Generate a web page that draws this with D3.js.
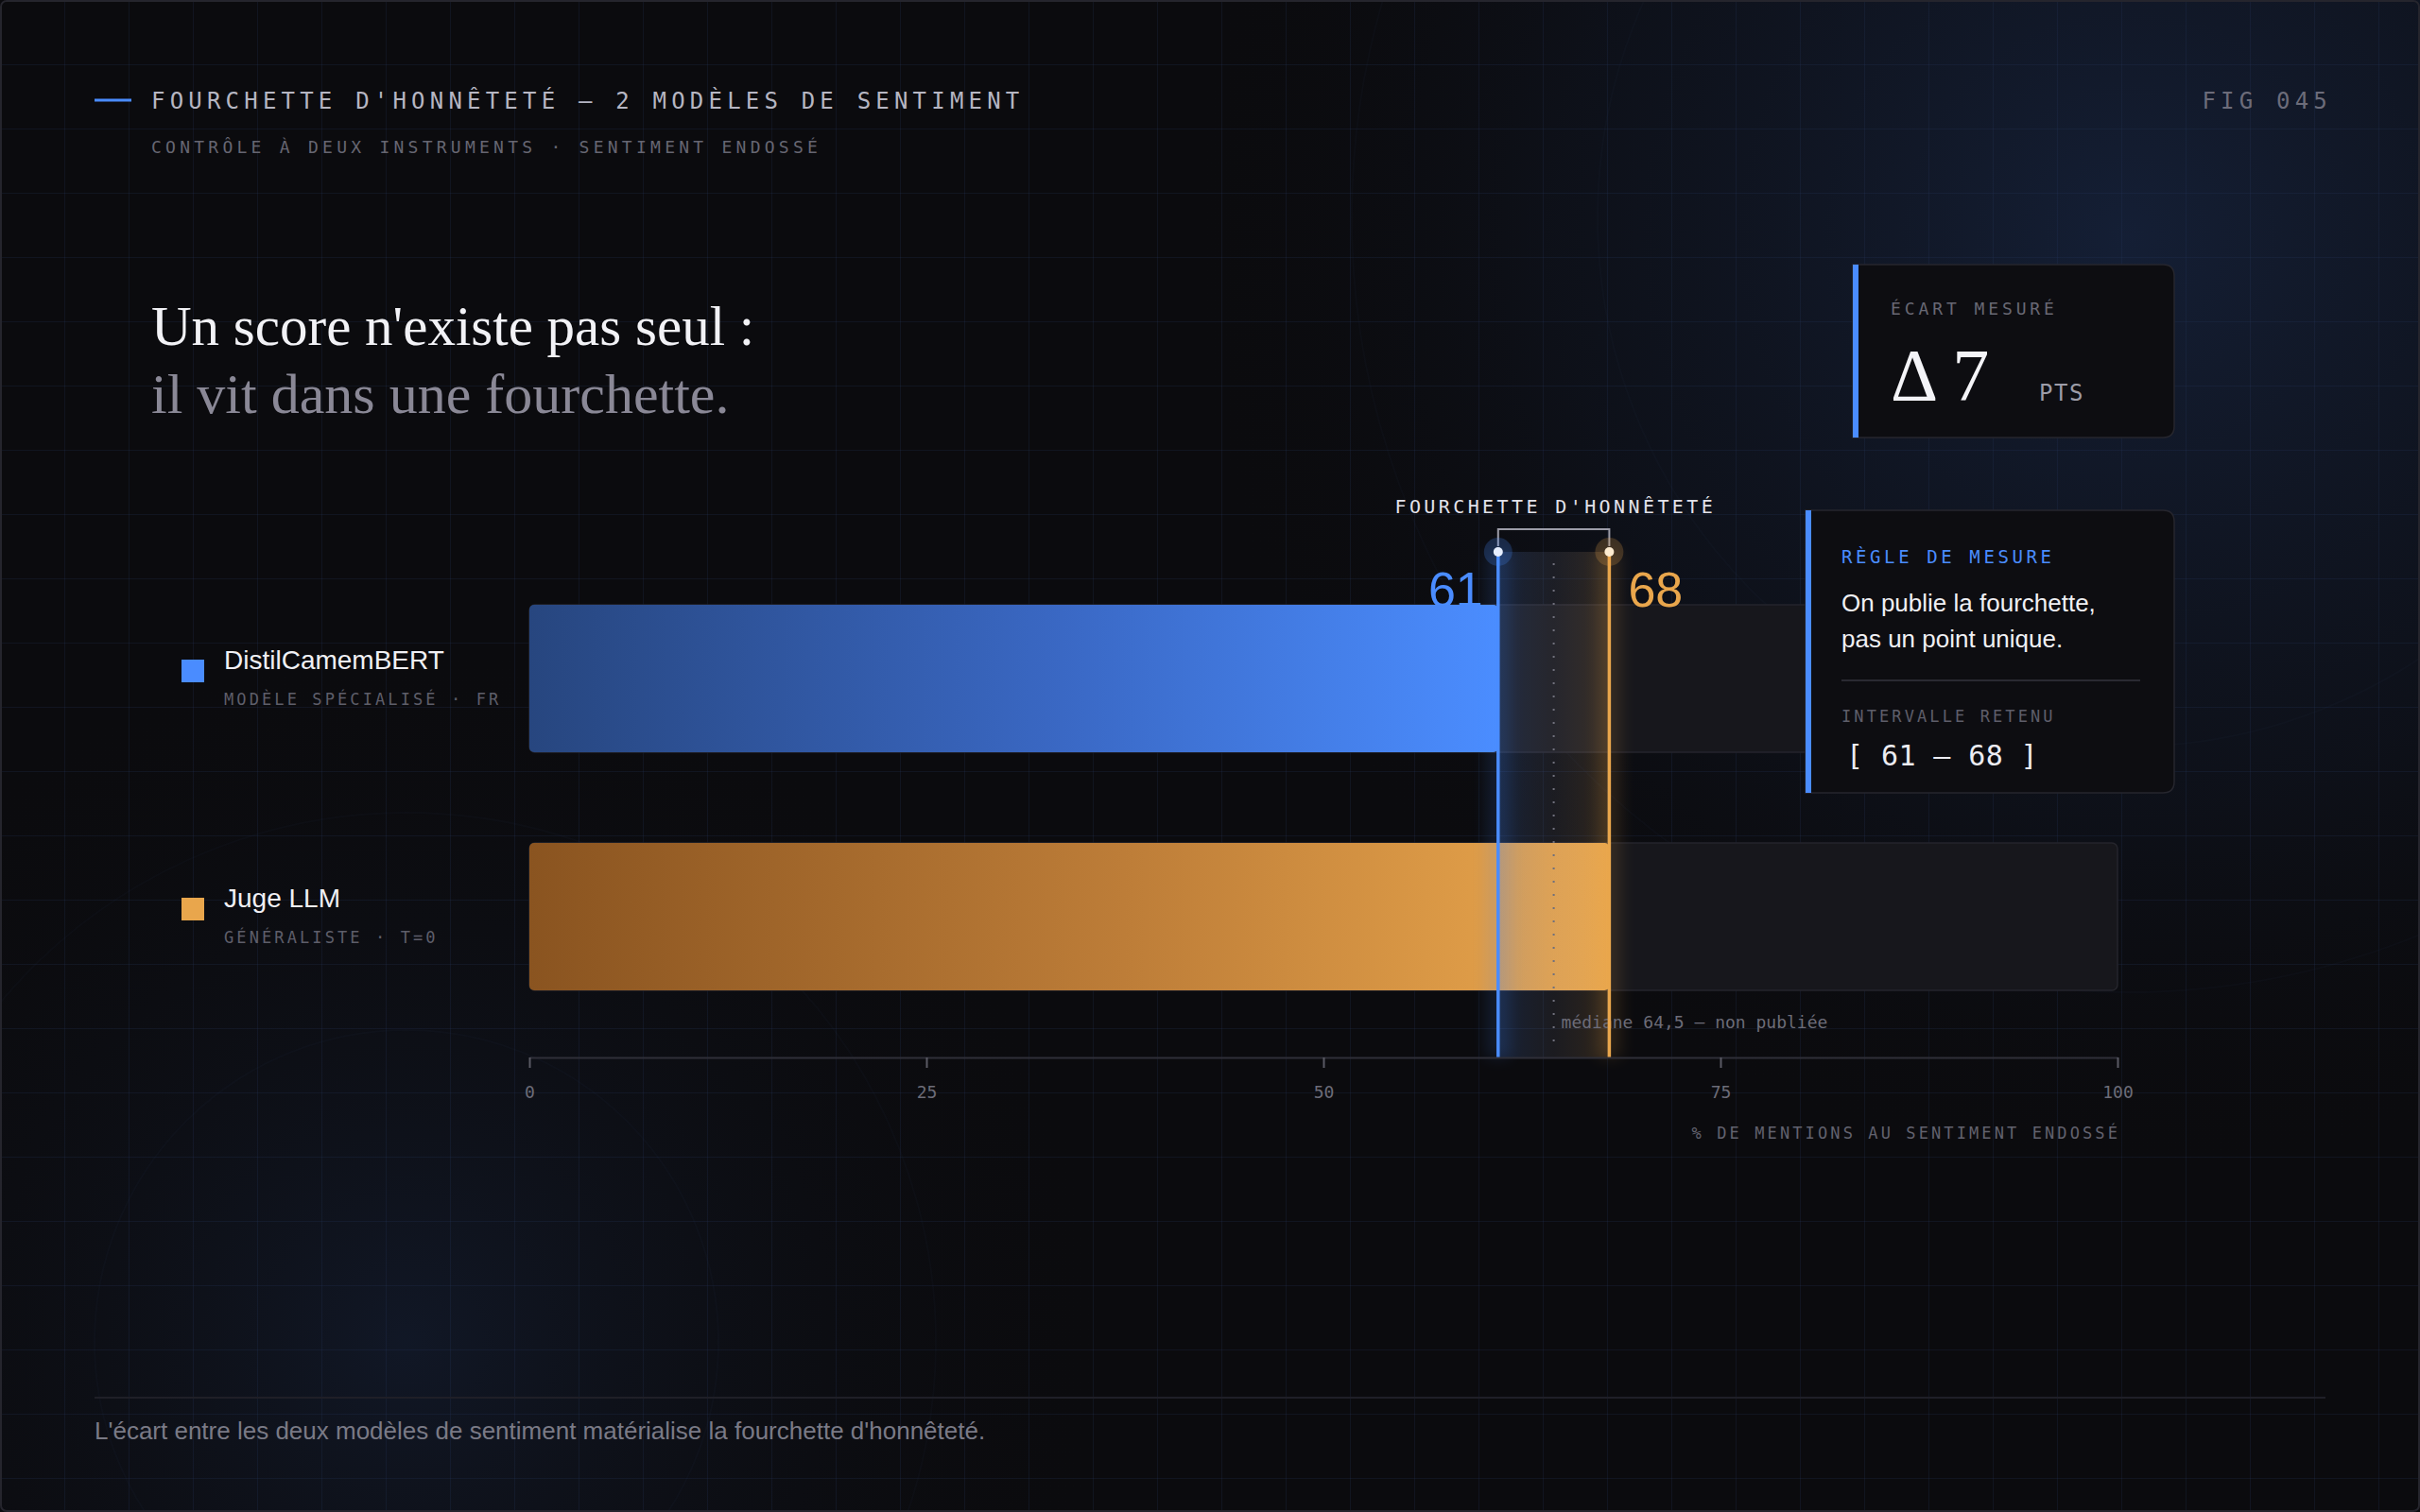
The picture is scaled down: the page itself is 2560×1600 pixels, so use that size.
<!DOCTYPE html>
<html><head><meta charset="utf-8">
<script src="https://cdn.jsdelivr.net/npm/d3@7"></script>
<style>html,body{margin:0;padding:0;background:#0b0b0e;} svg{display:block}</style>
</head><body><div id="chart"></div>
<script>
// ---------- data ----------
const models = ["DistilCamemBERT", "Juge LLM"];
const modelNotes = ["MODÈLE SPÉCIALISÉ · FR", "GÉNÉRALISTE · T=0"];
const scores = [61, 68];
const median = 64.5;
const xDomain = [0, 100];
const xTicks = [0, 25, 50, 75, 100];
const headerTitle = "FOURCHETTE D'HONNÊTETÉ — 2 MODÈLES DE SENTIMENT";
const headerSub = "CONTRÔLE À DEUX INSTRUMENTS · SENTIMENT ENDOSSÉ";
const figLabel = "FIG 045";
const headline = ["Un score n'existe pas seul :", "il vit dans une fourchette."];
const axisTitle = "% DE MENTIONS AU SENTIMENT ENDOSSÉ";
const bandLabel = "FOURCHETTE D'HONNÊTETÉ";
const medianLabel = "médiane 64,5 — non publiée";
const footerText = "L'écart entre les deux modèles de sentiment matérialise la fourchette d'honnêteté.";
const ruleTitle = "RÈGLE DE MESURE";
const ruleText = ["On publie la fourchette,", "pas un point unique."];
const intervalTitle = "INTERVALLE RETENU";
const gapTitle = "ÉCART MESURÉ";

// ---------- styles ----------
const W = 2560, H = 1600;
const MONO = "'DejaVu Sans Mono', monospace";
const SANS = "'Liberation Sans', Arial, sans-serif";
const SERIF = "'Liberation Serif', 'Times New Roman', serif";
const BLUE = "#4a8cff", ORANGE = "#e9a64c";
const seriesColors = [BLUE, ORANGE];

const svg = d3.select("#chart").append("svg").attr("width", W).attr("height", H);
const defs = svg.append("defs");

// background
svg.append("rect").attr("width", W).attr("height", H).attr("fill", "#0b0b0e");
const rg1 = defs.append("radialGradient").attr("id", "glowTR").attr("gradientUnits", "userSpaceOnUse")
  .attr("cx", 2250).attr("cy", 250).attr("r", 1000);
rg1.append("stop").attr("offset", 0).attr("stop-color", "#1c2f55").attr("stop-opacity", 0.55);
rg1.append("stop").attr("offset", 0.6).attr("stop-color", "#15213a").attr("stop-opacity", 0.25);
rg1.append("stop").attr("offset", 1).attr("stop-color", "#0b0b0e").attr("stop-opacity", 0);
svg.append("rect").attr("width", W).attr("height", H).attr("fill", "url(#glowTR)");
const rg2 = defs.append("radialGradient").attr("id", "glowBL").attr("gradientUnits", "userSpaceOnUse")
  .attr("cx", 430).attr("cy", 1420).attr("r", 750);
rg2.append("stop").attr("offset", 0).attr("stop-color", "#1a2a4a").attr("stop-opacity", 0.4);
rg2.append("stop").attr("offset", 1).attr("stop-color", "#0b0b0e").attr("stop-opacity", 0);
svg.append("rect").attr("width", W).attr("height", H).attr("fill", "url(#glowBL)");

// faint rings
[[2250, 230, 820], [2250, 230, 560], [430, 1420, 330], [430, 1420, 560]].forEach(([cx, cy, r]) => {
  svg.append("circle").attr("cx", cx).attr("cy", cy).attr("r", r)
    .attr("fill", "none").attr("stroke", "#3a5488").attr("stroke-opacity", 0.045).attr("stroke-width", 2);
});

// grid
const grid = svg.append("g").attr("stroke", "#2a3a66").attr("stroke-opacity", 0.22).attr("stroke-width", 1);
d3.range(68, W, 68).forEach(x => grid.append("line").attr("x1", x + 0.5).attr("x2", x + 0.5).attr("y1", 0).attr("y2", H));
d3.range(68, H, 68).forEach(y => grid.append("line").attr("y1", y + 0.5).attr("y2", y + 0.5).attr("x1", 0).attr("x2", W));

// frame
svg.append("rect").attr("x", 1).attr("y", 1).attr("width", W - 2).attr("height", H - 2).attr("rx", 6)
  .attr("fill", "none").attr("stroke", "#25252d").attr("stroke-width", 2);

function txt(g, x, y, s, o) {
  const t = g.append("text").attr("x", x).attr("y", y).text(s)
    .attr("font-family", o.f).attr("font-size", o.s).attr("fill", o.c);
  if (o.ls) t.style("letter-spacing", o.ls + "px");
  if (o.a) t.attr("text-anchor", o.a);
  if (o.w) t.attr("font-weight", o.w);
  return t;
}

// ---------- header ----------
svg.append("line").attr("x1", 100).attr("x2", 139).attr("y1", 106).attr("y2", 106)
  .attr("stroke", BLUE).attr("stroke-width", 3);
txt(svg, 160, 115, headerTitle, { f: MONO, s: 24, c: "#b6b6c2", ls: 5.2 });
txt(svg, 160, 162, headerSub, { f: MONO, s: 18, c: "#66667 2".replace(" ", ""), ls: 4.25 });
txt(svg, 2467, 115, figLabel, { f: MONO, s: 24, c: "#6c6c7a", ls: 5.2, a: "end" });

txt(svg, 160, 365, headline[0], { f: SERIF, s: 59, c: "#f2f2f6" });
txt(svg, 160, 437, headline[1], { f: SERIF, s: 60, c: "#8a8896" });

// ---------- chart ----------
const x = d3.scaleLinear().domain(xDomain).range([560, 2240]);
const y = d3.scaleBand().domain(models).range([640, 1048]).paddingInner(0.381).paddingOuter(0);
const axisY = 1119;
const bw = y.bandwidth();

// tracks
svg.append("g").selectAll("rect").data(models).join("rect")
  .attr("x", x(0)).attr("y", d => y(d)).attr("width", x(100) - x(0)).attr("height", bw)
  .attr("rx", 6).attr("fill", "#17171c").attr("stroke", "#25252c").attr("stroke-width", 1.5);

// value labels (behind bars)
txt(svg, x(scores[0]) - 16, 642, String(scores[0]), { f: SANS, s: 52, c: BLUE, a: "end" });
txt(svg, x(scores[1]) + 20, 642, String(scores[1]), { f: SANS, s: 52, c: ORANGE });

// bar gradients
const gradStops = [
  [["#27467f", 0], ["#3a68c4", 0.55], ["#4b8dff", 1]],
  [["#8a5420", 0], ["#bd7d38", 0.55], ["#eaa74d", 1]]
];
scores.forEach((v, i) => {
  const g = defs.append("linearGradient").attr("id", "barGrad" + i).attr("gradientUnits", "userSpaceOnUse")
    .attr("x1", x(0)).attr("x2", x(v)).attr("y1", 0).attr("y2", 0);
  gradStops[i].forEach(([c, o]) => g.append("stop").attr("offset", o).attr("stop-color", c));
});

svg.append("g").selectAll("rect").data(models).join("rect")
  .attr("x", x(0)).attr("y", d => y(d)).attr("width", (d, i) => x(scores[i]) - x(0)).attr("height", bw)
  .attr("rx", 5).attr("fill", (d, i) => `url(#barGrad${i})`);

// honesty band
const lo = d3.min(scores), hi = d3.max(scores);
const bandTop = 584;
const bg = defs.append("linearGradient").attr("id", "bandGrad").attr("gradientUnits", "userSpaceOnUse")
  .attr("x1", x(lo)).attr("x2", x(hi)).attr("y1", 0).attr("y2", 0);
bg.append("stop").attr("offset", 0).attr("stop-color", BLUE).attr("stop-opacity", 0.17);
bg.append("stop").attr("offset", 0.5).attr("stop-color", "#a0a0b4").attr("stop-opacity", 0.11);
bg.append("stop").attr("offset", 1).attr("stop-color", ORANGE).attr("stop-opacity", 0.17);
svg.append("rect").attr("x", x(lo)).attr("y", bandTop).attr("width", x(hi) - x(lo)).attr("height", axisY - bandTop)
  .attr("fill", "url(#bandGrad)");

// glows
const blur = defs.append("filter").attr("id", "blur").attr("x", "-100%").attr("width", "300%");
blur.append("feGaussianBlur").attr("stdDeviation", 8);
scores.forEach((v, i) => {
  svg.append("rect").attr("x", x(v) - 12).attr("y", bandTop).attr("width", 24).attr("height", axisY - bandTop)
    .attr("fill", seriesColors[i]).attr("opacity", 0.14).attr("filter", "url(#blur)");
});

// median dotted line
svg.append("line").attr("x1", x(median)).attr("x2", x(median)).attr("y1", 596).attr("y2", 1112)
  .attr("stroke", "#70707c").attr("stroke-width", 2).attr("stroke-dasharray", "2 12");
txt(svg, x(median) + 8, 1088, medianLabel, { f: MONO, s: 18, c: "#6c6c78" });

// vertical range lines
scores.forEach((v, i) => {
  svg.append("line").attr("x1", x(v)).attr("x2", x(v)).attr("y1", bandTop).attr("y2", axisY)
    .attr("stroke", seriesColors[i]).attr("stroke-width", 3.5);
});

// bracket
svg.append("path")
  .attr("d", `M${x(lo)},${bandTop - 6}V560H${x(hi)}V${bandTop - 6}`)
  .attr("fill", "none").attr("stroke", "#9c9ca8").attr("stroke-width", 2);
txt(svg, x(median) + 1.7, 543, bandLabel, { f: MONO, s: 20, c: "#e2e2ea", ls: 3.4, a: "middle" });

// dots
scores.forEach((v, i) => {
  svg.append("circle").attr("cx", x(v)).attr("cy", bandTop).attr("r", 15)
    .attr("fill", seriesColors[i]).attr("opacity", 0.22);
  svg.append("circle").attr("cx", x(v)).attr("cy", bandTop).attr("r", 5)
    .attr("fill", i === 0 ? "#e6eeff" : "#fdebd0");
});

// axis
const axis = svg.append("g").attr("transform", `translate(0,${axisY})`)
  .call(d3.axisBottom(x).tickValues(xTicks).tickSize(11).tickSizeOuter(0).tickPadding(19).tickFormat(d3.format("d")));
axis.select(".domain").attr("stroke", "#2f2f38").attr("stroke-width", 2);
axis.selectAll(".tick line").attr("stroke", "#5a5a64").attr("stroke-width", 2);
axis.selectAll(".tick text").attr("fill", "#6c6c78").attr("font-family", MONO).attr("font-size", 18);
txt(svg, 2243, 1205, axisTitle, { f: MONO, s: 17, c: "#62626e", ls: 3.1, a: "end" });

// row labels
models.forEach((m, i) => {
  const c = y(m) + bw / 2;
  svg.append("rect").attr("x", 192).attr("y", c - 20).attr("width", 24).attr("height", 24).attr("fill", seriesColors[i]);
  txt(svg, 237, c - 10, m, { f: SANS, s: 28, c: "#f0f0f4" });
  txt(svg, 237, c + 28, modelNotes[i], { f: MONO, s: 17, c: "#5e5e6a", ls: 3.1 });
});

// ---------- cards ----------
function card(x0, y0, w, h) {
  const r = 12;
  svg.append("path")
    .attr("d", `M${x0},${y0}H${x0 + w - r}Q${x0 + w},${y0} ${x0 + w},${y0 + r}V${y0 + h - r}Q${x0 + w},${y0 + h} ${x0 + w - r},${y0 + h}H${x0}Z`)
    .attr("fill", "#0d0d11").attr("stroke", "#26262e").attr("stroke-width", 1.5);
  svg.append("rect").attr("x", x0).attr("y", y0).attr("width", 6).attr("height", h).attr("fill", BLUE);
}
// delta card
card(1960, 280, 340, 183);
txt(svg, 2000, 333, gapTitle, { f: MONO, s: 18, c: "#686874", ls: 3.9 });
txt(svg, 2000, 423, "Δ " + (hi - lo), { f: SERIF, s: 78, c: "#f4f4f8" });
txt(svg, 2157, 424, "PTS", { f: MONO, s: 24, c: "#9c9ca8", ls: 1.5 });

// rule card
card(1910, 540, 390, 299);
txt(svg, 1948, 596, ruleTitle, { f: MONO, s: 19, c: BLUE, ls: 3.6 });
txt(svg, 1948, 647, ruleText[0], { f: SANS, s: 26, c: "#f0f0f4" });
txt(svg, 1948, 685, ruleText[1], { f: SANS, s: 26, c: "#f0f0f4" });
svg.append("line").attr("x1", 1948).attr("x2", 2264).attr("y1", 720).attr("y2", 720)
  .attr("stroke", "#2a2a32").attr("stroke-width", 2);
txt(svg, 1948, 764, intervalTitle, { f: MONO, s: 17, c: "#5e5e6a", ls: 3.1 });
txt(svg, 1953, 810, `[ ${lo} — ${hi} ]`, { f: MONO, s: 30, c: "#ececf2", ls: 0.4 });

// ---------- footer ----------
svg.append("line").attr("x1", 100).attr("x2", 2460).attr("y1", 1479).attr("y2", 1479)
  .attr("stroke", "#1f1f27").attr("stroke-width", 2);
txt(svg, 100, 1523, footerText, { f: SANS, s: 26, c: "#7a7a86" });
</script>
</body></html>
